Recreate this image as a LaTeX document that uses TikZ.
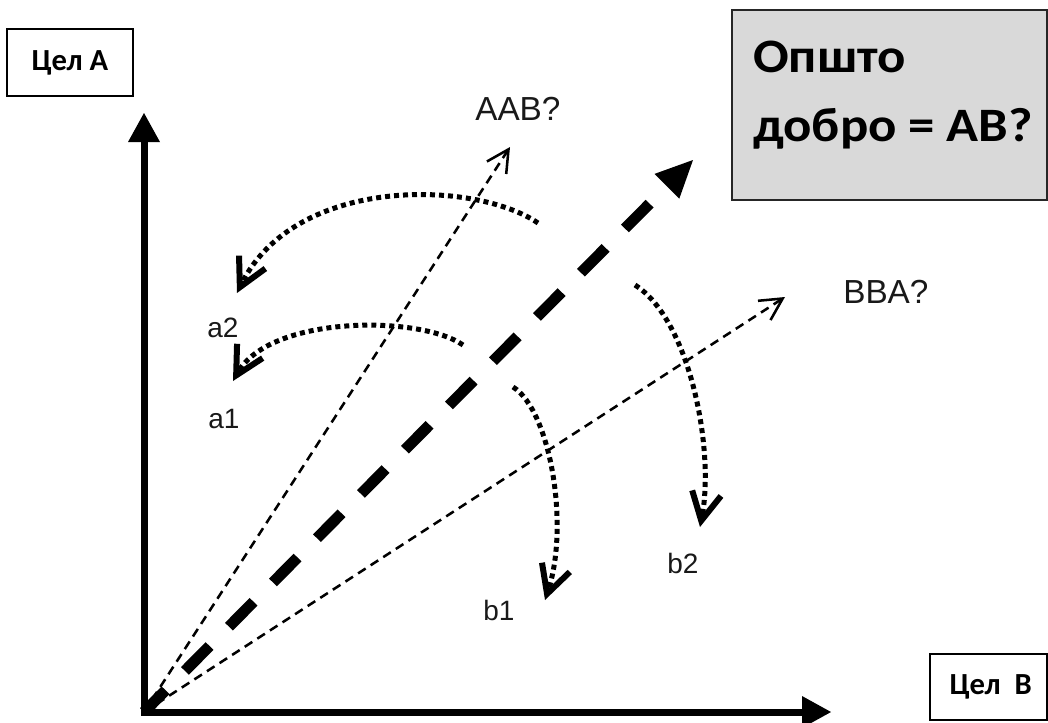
\documentclass[tikz,border=0pt]{standalone}
\usepackage{fontspec}
\newfontfamily\calib{Carlito}
\newfontfamily\arial{Liberation Sans}
\usetikzlibrary{arrows.meta}
\definecolor{boxgrey}{RGB}{217,217,217}
\definecolor{ink}{RGB}{25,25,25}
\begin{document}
\begin{tikzpicture}[x=0.75pt,y=-0.75pt,
  axis/.style={line width=5.25pt, line join=miter,
    {Triangle[length=21.75pt,width=24pt,line width=0pt]}-{Triangle[length=21.75pt,width=24pt,line width=0pt]}},
  thindash/.style={line width=1.9pt, dash pattern=on 6.75pt off 4.5pt,
    -{Straight Barb[length=16.5pt,width=17.25pt,line width=1.9pt]}},
  thickdash/.style={line width=8.25pt, dash pattern=on 26.25pt off 20.55pt, dash phase=3.3pt,
    -{Triangle[length=27.75pt,width=26.25pt,line width=0pt]}},
  dotarrow/.style={line width=3.75pt, dash pattern=on 3.75pt off 3pt,
    -{Straight Barb[length=21pt,width=22pt,line width=4.5pt]}},
  tagbox/.style={draw, line width=1.5pt, inner sep=0pt,
    font=\calib\bfseries\fontsize{23}{26}\selectfont},
  bigtext/.style={anchor=base west, inner sep=0pt,
    font=\calib\bfseries\fontsize{36}{40}\selectfont},
  lab/.style={anchor=base west, inner sep=0pt, text=ink,
    font=\arial\fontsize{25}{28}\selectfont},
  sublab/.style={anchor=base west, inner sep=0pt, text=ink,
    font=\arial\fontsize{21}{25}\selectfont}]
\useasboundingbox (0,0) rectangle (1048,722);

% coordinates
\coordinate (O) at (144,712);
\coordinate (V) at (144,113);
\coordinate (H) at (831,712);
\coordinate (tAAB) at (510,147);
\coordinate (tBBA) at (785,297);
\coordinate (tAB) at (693,160);
\coordinate (s1) at (538,223);
\coordinate (e1) at (237,293);
\coordinate (s2) at (463,345);
\coordinate (e2) at (233,381);
\coordinate (s3) at (513,387);
\coordinate (e3) at (545,600);
\coordinate (s4) at (635,285);
\coordinate (e4) at (700,527);

% boxes
\node[tagbox, minimum width=94.5pt, minimum height=50.25pt] (goalA) at (70,62.5) {Цел А};
\node[tagbox, minimum width=87.75pt, minimum height=49.5pt] (goalB) at (988,687) {\hspace{4pt}Цел\ \ В};
\node[draw=black!85, fill=boxgrey, line width=1.2pt, inner sep=0pt, outer sep=0pt,
      minimum width=236.25pt, minimum height=142.5pt, anchor=north west] (good) at (732,10) {};
\node[bigtext] (good1) at (753,72) {\scalebox{1.1}[1]{Општо}};
\node[bigtext] (good2) at (753,141) {\scalebox{1.1}[1]{добро = АВ?}};

% labels
\node[lab] (lAAB) at (475,120) {AAB?};
\node[lab] (lBBA) at (843,303) {BBA?};
\node[sublab] (la2) at (207,337) {a2};
\node[sublab] (la1) at (208,428) {a1};
\node[sublab] (lb1) at (483,620) {b1};
\node[sublab] (lb2) at (667,573) {b2};

% axes
\draw[axis] (V) -- (O) -- (H);

% rays
\draw[thindash] (O) -- (tAAB);
\draw[thindash] (O) -- (tBBA);
\draw[thickdash] (O) -- (tAB);

% dotted curved arrows
\draw[dotarrow] (s1) .. controls (475,180) and (295,175) .. (e1);
\draw[dotarrow] (s2) .. controls (420,315) and (270,315) .. (e2);
\draw[dotarrow] (s3) .. controls (550,410) and (570,525) .. (e3);
\draw[dotarrow] (s4) .. controls (690,320) and (715,450) .. (e4);
\end{tikzpicture}
\end{document}
